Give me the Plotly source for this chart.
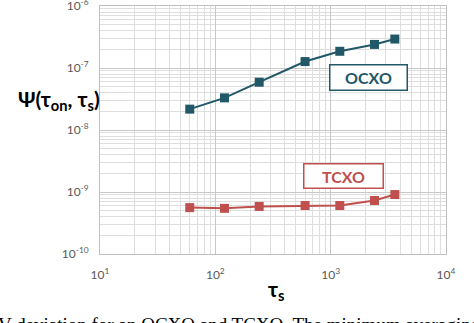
import plotly.graph_objects as go

tau_s = [60, 120, 240, 600, 1200, 2400, 3600]
psi_ocxo = [2.17e-8, 3.3e-8, 5.9e-8, 1.27e-7, 1.86e-7, 2.4e-7, 2.93e-7]
psi_tcxo = [5.6e-10, 5.45e-10, 5.85e-10, 6.05e-10, 6.05e-10, 7.3e-10, 9.1e-10]

x_ticks = [10, 100, 1000, 10000]
x_ticktext = ["10<sup>1</sup>", "10<sup>2</sup>", "10<sup>3</sup>", "10<sup>4</sup>"]
y_ticks = [1e-10, 1e-9, 1e-8, 1e-7, 1e-6]
y_ticktext = ["10<sup>-10</sup>", "10<sup>-9</sup>", "10<sup>-8</sup>", "10<sup>-7</sup>", "10<sup>-6</sup>"]

teal = "#215868"
red = "#c0504d"

def minor_vals(lo, hi):
    out = []
    for e in range(lo, hi):
        for m in range(2, 10):
            out.append(m * 10.0 ** e)
    return out

L, R, T, B = 100, 28, 6, 69
W, H = 474, 323
PW, PH = W - L - R, H - T - B

def px(x):
    return (x - L) / PW

def py(y):
    return 1 - (y - T) / PH

fig = go.Figure()
fig.add_trace(go.Scatter(x=tau_s, y=psi_ocxo, mode="lines+markers",
                         line=dict(color=teal, width=2),
                         marker=dict(symbol="square", size=9, color=teal)))
fig.add_trace(go.Scatter(x=tau_s, y=psi_tcxo, mode="lines+markers",
                         line=dict(color=red, width=2),
                         marker=dict(symbol="square", size=9, color=red)))

fig.update_layout(
    width=W, height=H,
    margin=dict(l=L, r=R, t=T, b=B, autoexpand=False),
    paper_bgcolor="white", plot_bgcolor="white",
    showlegend=False,
    font=dict(family="Lato, Liberation Sans, sans-serif", color="#595959"),
)
fig.update_xaxes(type="log", range=[1, 4], tickvals=x_ticks, ticktext=x_ticktext,
                 tickfont=dict(size=12, color="#595959"),
                 showgrid=True, gridcolor="#c8c8c8", gridwidth=1,
                 minor=dict(tickvals=minor_vals(1, 4), showgrid=True, gridcolor="#dedede", gridwidth=1, ticklen=0),
                 showline=True, linecolor="#bfbfbf", mirror=True, ticks="", zeroline=False,
                 ticklabelstandoff=10, ticklabeloverflow="allow", automargin=False)
fig.update_yaxes(type="log", range=[-10, -6], tickvals=y_ticks, ticktext=y_ticktext,
                 tickfont=dict(size=12, color="#595959"),
                 showgrid=True, gridcolor="#c8c8c8", gridwidth=1,
                 minor=dict(tickvals=minor_vals(-10, -6), showgrid=True, gridcolor="#dedede", gridwidth=1, ticklen=0),
                 showline=True, linecolor="#bfbfbf", mirror=True, ticks="", zeroline=False,
                 ticklabelstandoff=8, ticklabeloverflow="allow", automargin=False)

# y-axis title
fig.add_annotation(xref="paper", yref="paper", x=px(59), y=py(100), xanchor="center", yanchor="middle",
                   text="<b>Ψ(τ<sub>on</sub>, τ<sub>s</sub>)</b>", showarrow=False,
                   font=dict(size=21, color="black", family="Lato, Liberation Sans, sans-serif"))
# x-axis title
fig.add_annotation(xref="paper", yref="paper", x=px(276), y=py(290), xanchor="center", yanchor="middle",
                   text="<b>τ<sub>s</sub></b>", showarrow=False,
                   font=dict(size=21, color="black", family="Lato, Liberation Sans, sans-serif"))
# boxed labels
fig.add_annotation(xref="paper", yref="paper", x=px(368), y=py(77.5),
                   xanchor="center", yanchor="middle", text="<b>OCXO</b>", showarrow=False,
                   font=dict(size=16, color=teal, family="Lato, Liberation Sans, sans-serif"),
                   bordercolor=teal, borderwidth=1.5, bgcolor="white", width=74, height=22)
fig.add_annotation(xref="paper", yref="paper", x=px(343.5), y=py(176),
                   xanchor="center", yanchor="middle", text="<b>TCXO</b>", showarrow=False,
                   font=dict(size=16, color=red, family="Lato, Liberation Sans, sans-serif"),
                   bordercolor=red, borderwidth=1.5, bgcolor="white", width=76, height=21)
# cropped caption
fig.add_annotation(xref="paper", yref="paper", x=px(-4), y=py(324),
                   xanchor="left", yanchor="middle", text="V deviation for an OCXO and TCXO. The minimum averaging",
                   showarrow=False, align="left",
                   font=dict(size=19, color="black", family="Liberation Serif, serif"))

fig.write_html("out.html")
